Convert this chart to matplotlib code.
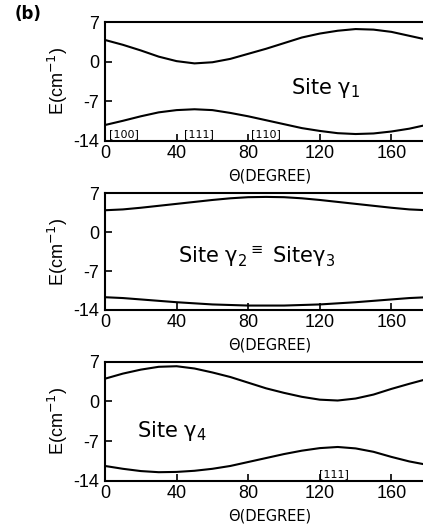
import matplotlib
matplotlib.use("Agg")
import matplotlib.pyplot as plt

plt.rcParams['font.family'] = ['Liberation Sans', 'DejaVu Sans']
plt.rcParams['mathtext.fontset'] = 'dejavusans'

theta = [0, 10, 20, 30, 40, 50, 60, 70, 80, 90, 100, 110, 120, 130, 140, 150, 160, 170, 180]

site1_upper = [3.86, 3.0, 2.0, 0.9, 0.1, -0.3, -0.1, 0.5, 1.4, 2.3, 3.3, 4.3, 5.0, 5.5, 5.8, 5.7, 5.3, 4.6, 3.9]
site1_lower = [-11.25, -10.5, -9.7, -9.0, -8.6, -8.45, -8.6, -9.1, -9.7, -10.4, -11.1, -11.8, -12.3, -12.7, -12.85, -12.75, -12.4, -11.9, -11.2]

site23_upper = [3.95, 4.1, 4.4, 4.75, 5.1, 5.45, 5.8, 6.1, 6.3, 6.35, 6.3, 6.1, 5.8, 5.45, 5.1, 4.75, 4.4, 4.1, 3.95]
site23_lower = [-11.7, -11.85, -12.1, -12.35, -12.6, -12.8, -13.0, -13.1, -13.2, -13.2, -13.2, -13.1, -13.0, -12.8, -12.6, -12.35, -12.1, -11.85, -11.7]

site4_upper = [4.0, 4.9, 5.6, 6.1, 6.2, 5.8, 5.1, 4.3, 3.3, 2.3, 1.5, 0.8, 0.3, 0.15, 0.5, 1.2, 2.2, 3.1, 3.95]
site4_lower = [-11.4, -11.9, -12.3, -12.5, -12.45, -12.25, -11.9, -11.4, -10.7, -10.0, -9.3, -8.7, -8.25, -8.05, -8.3, -8.9, -9.8, -10.6, -11.2]

xticks = [0, 40, 80, 120, 160]
yticks = [7, 0, -7, -14]
ytick_labels = ['7', '0', '-7', '-14']

site_labels = [r"Site γ$_1$", r"Site γ$_2$$^{\equiv}$ Siteγ$_3$", r"Site γ$_4$"]
dir_labels_1 = [("[100]", 2.5), ("[111]", 52.5), ("[110]", 90)]
dir_labels_3 = [("[111]", 128)]

W, H = 423, 531
fig = plt.figure(figsize=(W / 100, H / 100), dpi=100)

def px_axes(top, bottom):
    left = 105
    right = 105 + 180 * 1.79
    return fig.add_axes([left / W, 1 - bottom / H, (right - left) / W, (bottom - top) / H])

panels = [
    (22.3, 140.5, site1_upper, site1_lower),
    (193.3, 310.0, site23_upper, site23_lower),
    (361.7, 480.7, site4_upper, site4_lower),
]
axes = []
for top, bottom, up, lo in panels:
    ax = px_axes(top, bottom)
    ax.plot(theta, up, color='black', lw=1.5)
    ax.plot(theta, lo, color='black', lw=1.5)
    ax.set_xlim(0, 180)
    ax.set_ylim(-14, 7)
    ax.set_xticks(xticks)
    ax.set_yticks(yticks)
    ax.set_yticklabels(ytick_labels)
    ax.tick_params(direction='in', length=5, width=1.2, labelsize=13, pad=4)
    ax.tick_params(axis='x', pad=3)
    for s in ax.spines.values():
        s.set_linewidth(1.5)
    ax.set_ylabel(r"E(cm$^{-1}$)", fontsize=13)
    ax.yaxis.set_label_coords(-0.11, 0.5)
    ax.set_xlabel("Θ(DEGREE)", fontsize=10.5, family='DejaVu Sans')
    ax.xaxis.set_label_coords(0.51, -0.235)
    axes.append(ax)

site_kw = dict(fontsize=15, family='DejaVu Sans', ha='left', va='center')
axes[0].text(104, -4.7, site_labels[0], **site_kw)
axes[1].text(41, -4.4, site_labels[1], **site_kw)
axes[2].text(18, -5.3, site_labels[2], **site_kw)

for lab, x in dir_labels_1:
    axes[0].text(x, -13.8, lab, fontsize=8, family='DejaVu Sans',
                 ha='left' if x < 5 else 'center', va='bottom')
for lab, x in dir_labels_3:
    axes[2].text(x, -13.8, lab, fontsize=8, family='DejaVu Sans', ha='center', va='bottom')

fig.text(15 / W, 1 - 14 / H, "(b)", fontsize=12, fontweight='bold', family='DejaVu Sans',
         ha='left', va='center')

fig.savefig("out.png", dpi=100)
